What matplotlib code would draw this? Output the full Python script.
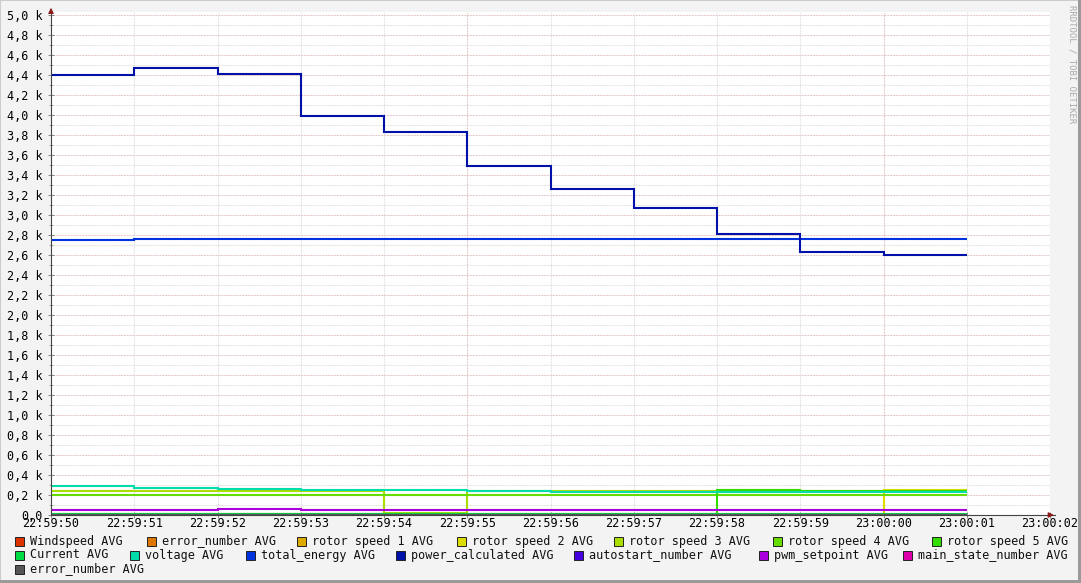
import numpy as np
import matplotlib
matplotlib.use("Agg")
import matplotlib.pyplot as plt
from matplotlib.patches import Rectangle

# time axis: one sample per second, 22:59:50 .. 23:00:01
time_edges = np.arange(12)
tick_seconds = np.arange(13)
tick_labels = ['22:59:50', '22:59:51', '22:59:52', '22:59:53', '22:59:54', '22:59:55',
               '22:59:56', '22:59:57', '22:59:58', '22:59:59', '23:00:00', '23:00:01',
               '23:00:02']

windspeed = [0] * 11
error_number = [0] * 11
rotor_speed_1 = [0] * 11
rotor_speed_2 = [15, 15, 15, 15, 15, 15, 15, 15, 15, 15, 250]
rotor_speed_3 = [245, 245, 245, 245, 25, 245, 245, 245, 250, 238, 244]
rotor_speed_4 = [205, 205, 205, 205, 205, 205, 205, 205, 205, 205, 205]
rotor_speed_5 = [15, 15, 15, 15, 15, 15, 15, 15, 248, 236, 242]
current = [15] * 11
voltage = [287, 273, 263, 252, 250, 242, 235, 232, 230, 228, 226]
total_energy = [2755, 2765, 2765, 2765, 2765, 2765, 2765, 2765, 2765, 2765, 2765]
power_calculated = [4400, 4470, 4410, 3995, 3830, 3490, 3257, 3072, 2813, 2633, 2605]
autostart_number = [0] * 11
pwm_setpoint = [53, 53, 63, 53, 53, 53, 53, 53, 53, 53, 53]
main_state_number = [0] * 11
error_number_2 = [0] * 11

legend_names = ['Windspeed AVG', 'error_number AVG', 'rotor speed 1 AVG', 'rotor speed 2 AVG',
                'rotor speed 3 AVG', 'rotor speed 4 AVG', 'rotor speed 5 AVG',
                'Current AVG', 'voltage AVG', 'total_energy AVG', 'power_calculated AVG',
                'autostart_number AVG', 'pwm_setpoint AVG', 'main_state_number AVG',
                'error_number AVG']
colors = ['#DD3300', '#DD7700', '#DDAA00', '#DDDD00', '#AADD00', '#66DD00', '#33DD00',
          '#00DD44', '#00DDAA', '#0033DD', '#0011AA', '#4400DD', '#AA00DD', '#DD00AA',
          '#555555']
series = [windspeed, error_number, rotor_speed_1, rotor_speed_2, rotor_speed_3,
          rotor_speed_4, rotor_speed_5, current, voltage, total_energy, power_calculated,
          autostart_number, pwm_setpoint, main_state_number, error_number_2]

W, H = 1081, 583
fig = plt.figure(figsize=(W / 100, H / 100), dpi=100)
fig.patch.set_facecolor('#F3F3F3')

left, right, bottom, top = 51, 1050, 515, 12
ax = fig.add_axes([left / W, 1 - bottom / H, (right - left) / W, (bottom - top) / H])
ax.set_facecolor('white')
ax.set_xlim(0, 12)
ax.set_ylim(0, 5030)
for s in ax.spines.values():
    s.set_visible(False)

# grid: grey every 0.1k / second, reddish every 0.2k / 5 seconds
dot = (0, (0.7, 0.75))
for y in np.arange(100, 5001, 100):
    major = (y % 200 == 0)
    ax.axhline(y, color='#DDB0B0' if major else '#D8D8D8', lw=0.75, ls=dot, zorder=0)
for x in range(1, 13):
    ax.axvline(x, color='#DDB0B0' if x % 5 == 0 else '#D8D8D8', lw=0.75, ls=dot, zorder=0)

for vals, c in zip(series, colors):
    ax.stairs(vals, time_edges, baseline=None, color=c, lw=1.5, zorder=2)

# axes with arrows
ax.plot([0, 0], [0, 5030], color='#444444', lw=0.8, clip_on=False, zorder=3)
ax.plot([0, 12.06], [0, 0], color='#444444', lw=0.8, clip_on=False, zorder=3)
ax.annotate('', xy=(12.08, 0), xytext=(11.95, 0), xycoords='data',
            arrowprops=dict(arrowstyle='-|>', color='#8B1A1A', lw=0.8, mutation_scale=8),
            annotation_clip=False)
ax.annotate('', xy=(0, 5100), xytext=(0, 4990), xycoords='data',
            arrowprops=dict(arrowstyle='-|>', color='#8B1A1A', lw=0.8, mutation_scale=8),
            annotation_clip=False)

mono = 'DejaVu Sans Mono'
yt = np.arange(0, 5001, 200)
ax.set_yticks(yt)
ax.set_yticklabels(['0,0'] + [f'{v / 1000:.1f} k'.replace('.', ',') for v in yt[1:]],
                   family=mono, fontsize=8.5)
ax.set_xticks(tick_seconds)
ax.set_xticklabels(tick_labels, family=mono, fontsize=8.5)
ax.tick_params(axis='y', direction='inout', length=4, width=0.6, color='#777777', pad=4)
ax.tick_params(axis='x', direction='inout', length=4, width=0.6, color='#777777', pad=-0.5)
ax.set_yticks(np.arange(100, 5001, 200), minor=True)
ax.tick_params(axis='y', which='minor', direction='inout', length=3, width=0.6, color='#999999')

# legend laid out like rrdtool
legend_pos = [(15, 541), (147, 541), (297, 541), (457, 541), (614, 541), (773, 541), (932, 541),
              (15, 555), (130, 555), (246, 555), (396, 555), (574, 555), (759, 555), (903, 555),
              (15, 569)]
for (bx, by), name, c in zip(legend_pos, legend_names, colors):
    fig.patches.append(Rectangle((bx / W, 1 - (by + 4.5) / H), 9 / W, 9 / H,
                                 transform=fig.transFigure, facecolor=c,
                                 edgecolor='#222222', lw=0.7))
    fig.text((bx + 15) / W, 1 - by / H, name, family=mono, fontsize=8.5,
             va='center', ha='left', color='#111111')

fig.text(1072 / W, 1 - 5 / H, 'RRDTOOL / TOBI OETIKER', rotation=270, family=mono,
         fontsize=6.5, color='#AAAAAA', ha='center', va='top')

# frame
fig.patches.append(Rectangle((0, 0), 1, 1, transform=fig.transFigure, fill=False,
                             edgecolor='#CCCCCC', lw=1.5))
fig.patches.append(Rectangle((1 - 3 / W, 0), 3 / W, 1, transform=fig.transFigure,
                             facecolor='#9A9A9A', edgecolor='none'))
fig.patches.append(Rectangle((0, 0), 1, 3 / H, transform=fig.transFigure,
                             facecolor='#9A9A9A', edgecolor='none'))

fig.savefig('out.png', dpi=100, facecolor=fig.get_facecolor())
